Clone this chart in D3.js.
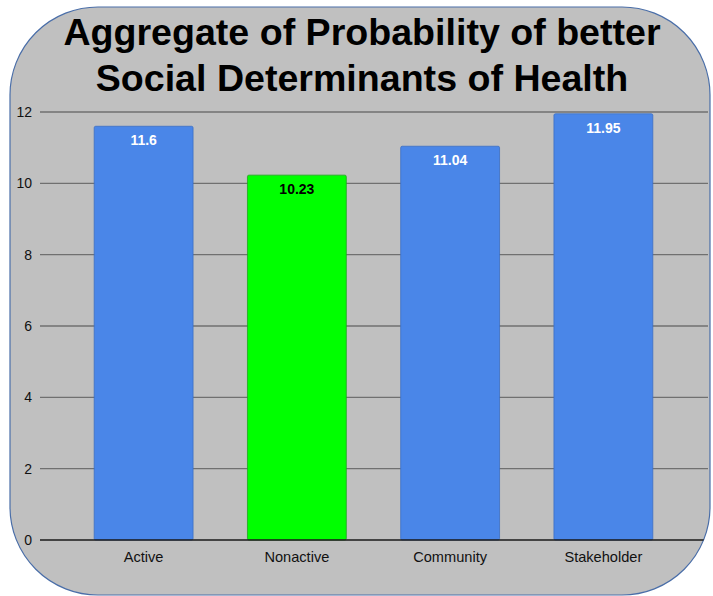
<!DOCTYPE html>
<html>
<head>
<meta charset="utf-8">
<script src="https://cdn.jsdelivr.net/npm/d3@7"></script>
<style>
  body { margin: 0; background: #fff; }
  svg { display: block; }
</style>
</head>
<body>
<svg id="viz_area" width="713" height="596"></svg>
<script>
// chart data
var categories = ["Active", "Nonactive", "Community", "Stakeholder"]
var values = [11.6, 10.23, 11.04, 11.95]
var valueLabels = ["11.6", "10.23", "11.04", "11.95"]
var barColors = ["#4a86e8", "#00ff00", "#4a86e8", "#4a86e8"]
var labelColors = ["#ffffff", "#000000", "#ffffff", "#ffffff"]
var yTicks = [0, 2, 4, 6, 8, 10, 12]
var titleLines = ["Aggregate of Probability of better", "Social Determinants of Health"]

var svg = d3.select("#viz_area")

// rounded grey panel
svg.append("defs").append("clipPath").attr("id", "panel")
  .append("rect").attr("x", 10).attr("y", 7).attr("width", 700).attr("height", 588)
  .attr("rx", 88).attr("ry", 88)

svg.append("rect")
  .attr("x", 10).attr("y", 7).attr("width", 700).attr("height", 588)
  .attr("rx", 88).attr("ry", 88)
  .style("fill", "#c0c0c0")
  .style("stroke", "#4a6ea8").style("stroke-width", 1.2)

var g = svg.append("g").attr("clip-path", "url(#panel)")

var y = d3.scaleLinear().domain([0, 12]).range([540, 112])
var x = d3.scaleBand().domain(categories).range([67, 680]).paddingInner(0.355).paddingOuter(0.1775)

// gridlines
g.selectAll(".grid").data(yTicks.filter(function (d) { return d > 0 })).enter()
  .append("line")
  .attr("x1", 40).attr("x2", 708)
  .attr("y1", function (d) { return y(d) }).attr("y2", function (d) { return y(d) })
  .style("stroke", "#707070").style("stroke-width", 1.3)

// bars
g.selectAll(".bar").data(values).enter()
  .append("rect")
  .attr("x", function (d, i) { return x(categories[i]) })
  .attr("y", function (d) { return y(d) })
  .attr("width", x.bandwidth())
  .attr("height", function (d) { return y(0) - y(d) })
  .attr("rx", 1.5)
  .style("fill", function (d, i) { return barColors[i] })
  .style("stroke", function (d, i) { return i == 1 ? "#1fa31f" : "#3b6fc4" })
  .style("stroke-width", 0.8)

// value labels
g.selectAll(".val").data(values).enter()
  .append("text")
  .attr("x", function (d, i) { return x(categories[i]) + x.bandwidth() / 2 })
  .attr("y", function (d) { return y(d) + 19 })
  .attr("text-anchor", "middle")
  .style("font-family", "'Liberation Sans', Arial, sans-serif")
  .style("font-weight", "bold").style("font-size", "14px")
  .style("fill", function (d, i) { return labelColors[i] })
  .text(function (d, i) { return valueLabels[i] })

// zero line
g.append("line")
  .attr("x1", 40).attr("x2", 712)
  .attr("y1", y(0)).attr("y2", y(0))
  .style("stroke", "#1a1a1a").style("stroke-width", 1.5)

// y tick labels
svg.selectAll(".ytick").data(yTicks).enter()
  .append("text")
  .attr("x", 32)
  .attr("y", function (d) { return y(d) + 5 })
  .attr("text-anchor", "end")
  .style("font-family", "'Liberation Sans', Arial, sans-serif")
  .style("font-size", "14px").style("fill", "#111")
  .text(function (d) { return d })

// x labels
svg.selectAll(".xlab").data(categories).enter()
  .append("text")
  .attr("x", function (d) { return x(d) + x.bandwidth() / 2 })
  .attr("y", 562)
  .attr("text-anchor", "middle")
  .style("font-family", "'Liberation Sans', Arial, sans-serif")
  .style("font-size", "14.6px").style("fill", "#111")
  .text(function (d) { return d })

// title
svg.selectAll(".title").data(titleLines).enter()
  .append("text")
  .attr("x", 362)
  .attr("y", function (d, i) { return 45 + i * 45.5 })
  .attr("text-anchor", "middle")
  .style("font-family", "'Liberation Sans', Arial, sans-serif")
  .style("font-weight", "bold").style("font-size", "37.6px").style("fill", "#000")
  .text(function (d) { return d })
</script>
</body>
</html>
